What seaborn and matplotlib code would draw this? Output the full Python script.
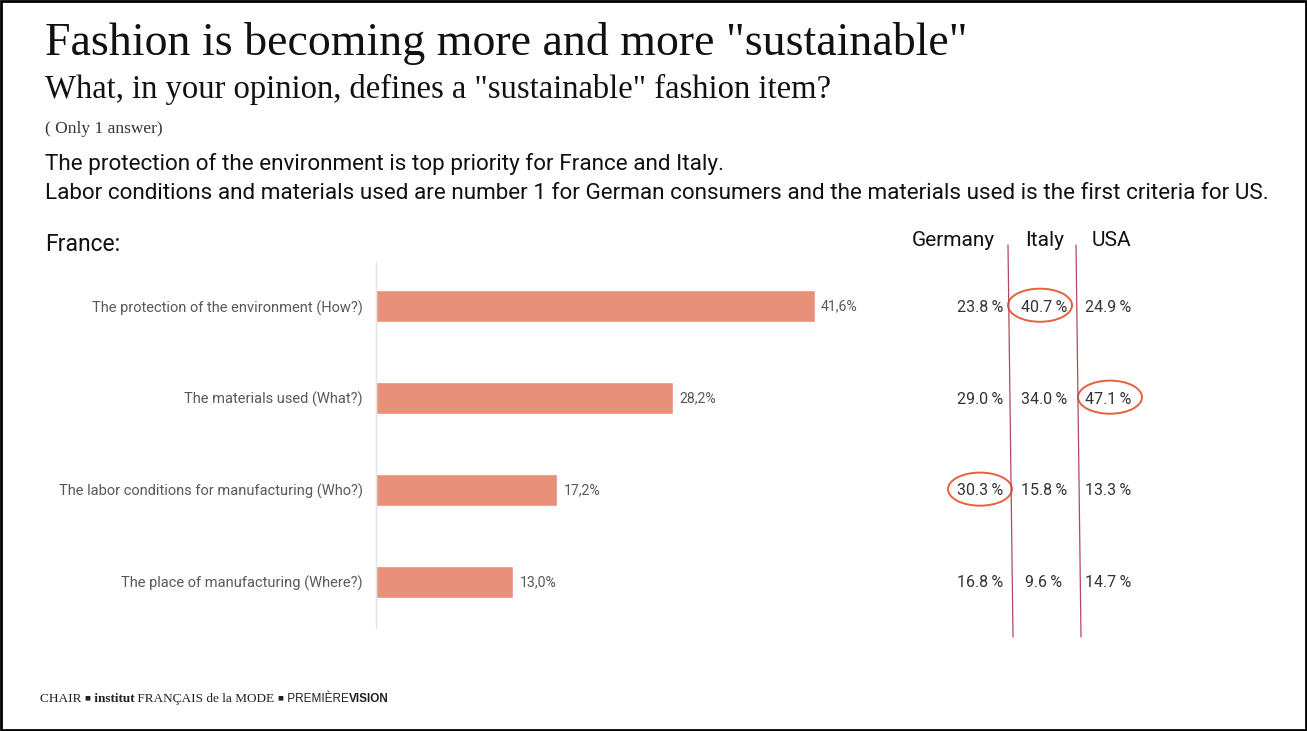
import matplotlib
matplotlib.use("Agg")
import matplotlib.pyplot as plt
from matplotlib.patches import Ellipse, Rectangle
from matplotlib.lines import Line2D
import seaborn as sns
import pandas as pd
import numpy as np

# ---- data ----
categories = [
    "The protection of the environment (How?)",
    "The materials used (What?)",
    "The labor conditions for manufacturing (Who?)",
    "The place of manufacturing (Where?)",
]
france = [41.6, 28.2, 17.2, 13.0]
countries = ["Germany", "Italy", "USA"]
germany = [23.8, 29.0, 30.3, 16.8]
italy = [40.7, 34.0, 15.8, 9.6]
usa = [24.9, 47.1, 13.3, 14.7]

title = 'Fashion is becoming more and more "sustainable"'
question = 'What, in your opinion, defines a "sustainable" fashion item?'
note = "( Only 1 answer)"
insight = [
    "The protection of the environment is top priority for France and Italy.",
    "Labor conditions and materials used are number 1 for German consumers and the materials used is the first criteria for US.",
]
panel_label = "France:"

# ---- style ----
W, H = 1307, 731
BAR = "#E8907A"
CIRCLE = "#E8603C"
SEP = "#B04A5A"
GREY = "#595959"
SERIF = ["Liberation Serif", "DejaVu Serif"]
SANS = ["Roboto", "DejaVu Sans"]

sns.set_theme(style="white")
plt.rcParams["font.family"] = SANS

fig = plt.figure(figsize=(W / 100, H / 100), dpi=100)
fig.patch.set_facecolor("white")


def px(x, y):
    return x / W, 1 - y / H


def box(x0, y0, x1, y1):
    return [x0 / W, 1 - y1 / H, (x1 - x0) / W, (y1 - y0) / H]


# ---- header texts ----
fig.text(*px(45, 55), title, family=SERIF, fontsize=33, color="#111111", va="baseline")
fig.text(*px(45, 98), question, family=SERIF, fontsize=23.5, color="#111111", va="baseline")
fig.text(*px(45, 133), note, family=SERIF, fontsize=12.5, color="#333333", va="baseline")
fig.text(*px(45, 170), insight[0], fontsize=16.2, color="#111111", va="baseline")
fig.text(*px(45, 199), insight[1], fontsize=16.2, color="#111111", va="baseline")
fig.text(*px(45, 251), panel_label, fontsize=16.5, color="#111111", va="baseline")

# ---- France bar chart ----
ax = fig.add_axes(box(376, 262, 882, 628))
df = pd.DataFrame({"category": categories, "share": france})
sns.barplot(data=df, x="share", y="category", orient="h", color=BAR,
            width=0.35, saturation=1, ax=ax)
ax.set_xlim(0, 48)
ax.set_ylim(3.5, -0.48)
ax.set_xlabel("")
ax.set_ylabel("")
ax.set_xticks([])
for s in ["top", "right", "bottom"]:
    ax.spines[s].set_visible(False)
ax.spines["left"].set_color("#e3e3e3")
ax.spines["left"].set_linewidth(1)
ax.tick_params(axis="y", length=0, pad=9.5, labelsize=10.5, labelcolor=GREY)
for bar, v in zip(ax.patches, france):
    ax.text(bar.get_width() + 0.6, bar.get_y() + bar.get_height() / 2,
            f"{v:.1f}%".replace(".", ","), va="center", ha="left",
            fontsize=10.2, color=GREY)

# ---- other countries table ----
tab = fig.add_axes(box(900, 262, 1300, 628))
tab.set_xlim(900, 1300)
tab.set_ylim(3.5, -0.48)
tab.axis("off")
col_x = {"Germany": 980, "Italy": 1044, "USA": 1108}
head_x = {"Germany": 953, "Italy": 1045, "USA": 1111}
col_vals = {"Germany": germany, "Italy": italy, "USA": usa}
circle_dx = {"Germany": 0, "Italy": -4, "USA": 2}
for c in countries:
    vals = col_vals[c]
    for i, v in enumerate(vals):
        tab.text(col_x[c], i + 0.01, f"{v:.1f}\u2009%", ha="center", va="center",
                 fontsize=11.5, color="#333333")
    top = int(np.argmax(vals))
    tab.add_patch(Ellipse((col_x[c] + circle_dx[c], top - 0.01), width=64, height=0.36,
                          fill=False, edgecolor=CIRCLE, linewidth=1.4))
    fig.text(*px(head_x[c], 246), c, ha="center", va="baseline", fontsize=15,
             color="#111111")

# column separators
for (xa, xb) in [(1008, 1013), (1076, 1081)]:
    fig.add_artist(Line2D([xa / W, xb / W], [1 - 245 / H, 1 - 637 / H],
                          color=SEP, linewidth=0.9))

# ---- footer: credits line built from chained text pieces on one baseline ----
bg = fig.add_axes([0, 0, 1, 1], zorder=-1)
bg.axis("off")
bg.set_xlim(0, 1)
bg.set_ylim(0, 1)
base_y = 1 - 702 / H
pieces = [
    ("CHAIR ", SERIF, "normal", 9.5, 0),
    ("\u25a0", ["DejaVu Sans"], "normal", 4.5, 2.2),
    (" institut", SERIF, "bold", 9.5, 0),
    (" FRAN\u00c7AIS de la MODE ", SERIF, "normal", 9.5, 0),
    ("\u25a0", ["DejaVu Sans"], "normal", 4.5, 2.2),
    (" PREMI\u00c8RE", ["Liberation Sans Narrow", "Liberation Sans"], "normal", 8.5, 0),
    ("VISION", ["Liberation Sans"], "bold", 8.5, 0),
]
prev = None
for txt, fam, wt, fs, dy in pieces:
    if prev is None:
        prev = bg.text(40 / W, base_y, txt, family=fam, fontweight=wt, fontsize=fs,
                       color="#222222", va="baseline", ha="left")
    else:
        prev = bg.annotate(txt, xy=(1, base_y), xycoords=(prev, "axes fraction"),
                           xytext=(0, dy), textcoords="offset points", family=fam,
                           fontweight=wt, fontsize=fs, color="#222222",
                           va="baseline", ha="left")

# page frame
fig.add_artist(Rectangle((0.001, 0.001), 0.998, 0.997, transform=fig.transFigure,
                         fill=False, edgecolor="black", linewidth=2))

fig.savefig("out.png", dpi=100, facecolor="white")
